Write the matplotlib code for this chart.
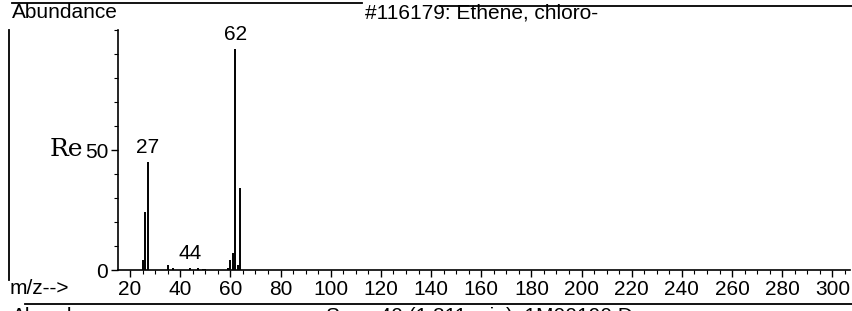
import matplotlib
matplotlib.use("Agg")
import matplotlib.pyplot as plt
from matplotlib.lines import Line2D

plt.rcParams['font.family'] = ['Liberation Sans', 'DejaVu Sans']

# spectrum peaks (m/z, relative abundance)
mz = [25, 26, 27, 35, 37, 44, 47, 49, 50, 59, 60, 61, 62, 63, 64]
abundance = [4, 24, 45, 2, 1, 1, 1, 0.6, 0.6, 1, 4, 7, 92, 2, 34]
labelled = [27, 44, 62]

xticks = list(range(20, 301, 20))
yticks = [0, 50]

TITLE = "#116179: Ethene, chloro-"
FOOTER = "Scan 40 (1.811 min): 1M00190.D"
FONT_SIZE = 15

fig = plt.figure(figsize=(8.53, 3.11), dpi=100)
ax = fig.add_axes([118 / 853, 41 / 311, 732 / 853, 240 / 311])

ax.vlines(mz, 0, abundance, color='black', linewidth=1.4)
for m in labelled:
    h = abundance[mz.index(m)]
    ax.text(m, h + 2, str(m), ha='center', va='bottom', fontsize=FONT_SIZE)

ax.set_xlim(15.2, 307)
ax.set_ylim(0, 100)
ax.spines['top'].set_visible(False)
ax.spines['right'].set_visible(False)
ax.spines['left'].set_linewidth(1.2)
ax.spines['bottom'].set_linewidth(1.2)

ax.set_xticks(xticks)
ax.set_xticks(range(20, 306, 5), minor=True)
ax.set_yticks(yticks)
ax.set_yticks(range(0, 101, 10), minor=True)
ax.tick_params(axis='both', which='major', labelsize=FONT_SIZE, length=5, width=1, pad=2)
ax.tick_params(axis='both', which='minor', length=3, width=0.8)

# header / footer text and rules, like the printed report
fig.text(12 / 853, 1 - 13 / 311, "Abundance", fontsize=FONT_SIZE, va='center')
fig.text(365 / 853, 1 - 13 / 311, TITLE, fontsize=FONT_SIZE, va='center')
fig.text(50 / 853, 1 - 149 / 311, "Re", fontsize=18, family='DejaVu Serif', va='center')
fig.text(10 / 853, 1 - 289 / 311, "m/z-->", fontsize=FONT_SIZE, va='center')
fig.text(12 / 853, 1 - 317 / 311, "Abundance", fontsize=FONT_SIZE, va='center')
fig.text(326 / 853, 1 - 317 / 311, FOOTER, fontsize=FONT_SIZE, va='center')

rules = [
    ((12, 362), (3, 3)),
    ((440, 853), (6, 6)),
    ((9, 9), (30, 280)),
    ((25, 853), (304, 304)),
]
for (x0, x1), (y0, y1) in rules:
    fig.add_artist(Line2D([x0 / 853, x1 / 853], [1 - y0 / 311, 1 - y1 / 311],
                          transform=fig.transFigure, color='black', linewidth=1.3))

fig.savefig("out.png", dpi=100)
